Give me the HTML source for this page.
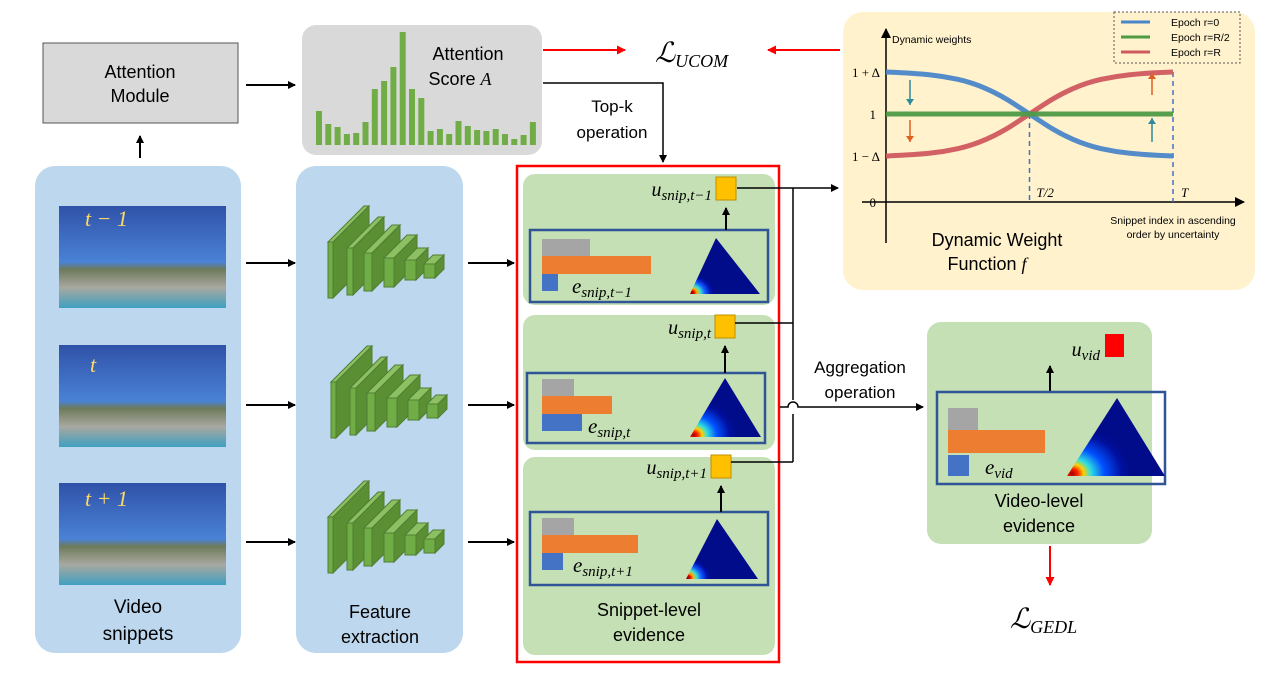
<!DOCTYPE html>
<html><head><meta charset="utf-8">
<style>
html,body{margin:0;padding:0;background:#fff;}
svg{display:block;font-family:"Liberation Sans",sans-serif;}
.m{font-family:"Liberation Serif",serif;font-style:italic;}
</style></head>
<body>
<svg id="root" width="1280" height="675" viewBox="0 0 1280 675" xmlns="http://www.w3.org/2000/svg">
<defs>
<marker id="ab" markerWidth="8" markerHeight="8" refX="7" refY="4" orient="auto" markerUnits="userSpaceOnUse"><path d="M0,0 L8,4 L0,8 z" fill="#000"/></marker>
<marker id="ar" markerWidth="9" markerHeight="9" refX="8" refY="4.5" orient="auto" markerUnits="userSpaceOnUse"><path d="M0,0 L9,4.5 L0,9 z" fill="#f00"/></marker>
<marker id="ak" markerWidth="10" markerHeight="10" refX="9" refY="5" orient="auto" markerUnits="userSpaceOnUse"><path d="M0,0 L10,5 L0,10 z" fill="#000"/></marker>
<radialGradient id="heat" cx="0.02" cy="0.98" r="0.32">
<stop offset="0" stop-color="#800000"/><stop offset="0.12" stop-color="#e00000"/><stop offset="0.25" stop-color="#ffb000"/><stop offset="0.4" stop-color="#40e0d0"/><stop offset="0.6" stop-color="#1060ff"/><stop offset="0.85" stop-color="#0010b0"/><stop offset="1" stop-color="#000c8a"/></radialGradient>
<radialGradient id="heat2" cx="0.05" cy="0.97" r="0.6">
<stop offset="0" stop-color="#a00000"/><stop offset="0.1" stop-color="#ff2000"/><stop offset="0.2" stop-color="#ffd000"/><stop offset="0.32" stop-color="#30e0e0"/><stop offset="0.55" stop-color="#0050ff"/><stop offset="0.85" stop-color="#0010a0"/><stop offset="1" stop-color="#000c8a"/></radialGradient>
<linearGradient id="sky" x1="0" y1="0" x2="0" y2="1"><stop offset="0" stop-color="#2f52a8"/><stop offset="0.55" stop-color="#4a82d6"/><stop offset="0.62" stop-color="#6d7a5a"/><stop offset="0.8" stop-color="#a8a8a0"/><stop offset="1" stop-color="#3fa0c0"/></linearGradient>
</defs>

<rect x="43" y="43" width="195" height="80" fill="#d9d9d9" stroke="#555" stroke-width="1"/>
<text x="140" y="78" text-anchor="middle" font-size="18">Attention</text>
<text x="140" y="102" text-anchor="middle" font-size="18">Module</text>
<line x1="140" y1="158" x2="140" y2="136" stroke="#000" stroke-width="2" marker-end="url(#ab)"/>
<line x1="246" y1="85" x2="295" y2="85" stroke="#000" stroke-width="2" marker-end="url(#ab)"/>

<rect x="302" y="25" width="240" height="130" rx="14" fill="#d9d9d9"/>
<g id="attbars"></g>
<text x="468" y="60" text-anchor="middle" font-size="18">Attention</text>
<text x="460" y="85" text-anchor="middle" font-size="18">Score <tspan class="m">A</tspan></text>

<line x1="543" y1="50" x2="625" y2="50" stroke="#f00" stroke-width="2" marker-end="url(#ar)"/>
<line x1="840" y1="50" x2="768" y2="50" stroke="#f00" stroke-width="2" marker-end="url(#ar)"/>
<text x="655" y="62" font-size="28" class="m">ℒ<tspan font-size="18" dy="5">UCOM</tspan></text>
<polyline points="543,83 663,83 663,162" fill="none" stroke="#000" stroke-width="1.5" marker-end="url(#ab)"/>
<text x="612" y="112" text-anchor="middle" font-size="17">Top-k</text>
<text x="612" y="138" text-anchor="middle" font-size="17">operation</text>

<rect x="35" y="166" width="206" height="487" rx="20" fill="#bdd7ee"/>
<g><rect x="59" y="206" width="167" height="102" fill="url(#sky)"/><text x="85" y="226" class="m" font-size="22" fill="#ffd966">t − 1</text></g>
<g><rect x="59" y="345" width="167" height="102" fill="url(#sky)"/><text x="90" y="372" class="m" font-size="22" fill="#ffd966">t</text></g>
<g><rect x="59" y="483" width="167" height="102" fill="url(#sky)"/><text x="85" y="506" class="m" font-size="22" fill="#ffd966">t + 1</text></g>
<text x="138" y="613" text-anchor="middle" font-size="19">Video</text>
<text x="138" y="640" text-anchor="middle" font-size="19">snippets</text>

<line x1="246" y1="263" x2="295" y2="263" stroke="#000" stroke-width="2" marker-end="url(#ab)"/>
<line x1="246" y1="405" x2="295" y2="405" stroke="#000" stroke-width="2" marker-end="url(#ab)"/>
<line x1="246" y1="542" x2="295" y2="542" stroke="#000" stroke-width="2" marker-end="url(#ab)"/>

<rect x="296" y="166" width="167" height="487" rx="20" fill="#bdd7ee"/>
<g id="cnns"></g>
<text x="380" y="618" text-anchor="middle" font-size="18">Feature</text>
<text x="380" y="643" text-anchor="middle" font-size="18">extraction</text>

<line x1="468" y1="263" x2="514" y2="263" stroke="#000" stroke-width="2" marker-end="url(#ab)"/>
<line x1="468" y1="405" x2="514" y2="405" stroke="#000" stroke-width="2" marker-end="url(#ab)"/>
<line x1="468" y1="542" x2="514" y2="542" stroke="#000" stroke-width="2" marker-end="url(#ab)"/>

<rect x="517" y="166" width="262" height="496" fill="none" stroke="#f00" stroke-width="2.5"/>
<rect x="523" y="174" width="252" height="131" rx="12" fill="#c5e0b4"/>
<rect x="523" y="315" width="252" height="135" rx="12" fill="#c5e0b4"/>
<rect x="523" y="457" width="252" height="198" rx="12" fill="#c5e0b4"/>
<text x="649" y="616" text-anchor="middle" font-size="18">Snippet-level</text>
<text x="649" y="641" text-anchor="middle" font-size="18">evidence</text>

<g id="evid"></g>

<line x1="737" y1="188" x2="838" y2="188" stroke="#000" stroke-width="1.5" marker-end="url(#ab)"/>
<line x1="735" y1="323" x2="793" y2="323" stroke="#000" stroke-width="1.5"/>
<line x1="731" y1="462" x2="793" y2="462" stroke="#000" stroke-width="1.5"/>
<line x1="793" y1="188" x2="793" y2="400" stroke="#000" stroke-width="1.5"/>
<line x1="793" y1="414" x2="793" y2="462" stroke="#000" stroke-width="1.5"/>
<path d="M780,407 L788,407 A5,5 0 0 1 798,407 L923,407" fill="none" stroke="#000" stroke-width="1.5" marker-end="url(#ab)"/>
<text x="860" y="373" text-anchor="middle" font-size="17">Aggregation</text>
<text x="860" y="398" text-anchor="middle" font-size="17">operation</text>

<rect x="927" y="322" width="225" height="222" rx="14" fill="#c5e0b4"/>
<text x="1100" y="356" text-anchor="end" class="m" font-size="20">u<tspan font-size="15" dy="4">vid</tspan></text>
<rect x="1105" y="334" width="19" height="23" fill="#f00"/>
<line x1="1050" y1="392" x2="1050" y2="366" stroke="#000" stroke-width="2" marker-end="url(#ab)"/>
<rect x="937" y="392" width="228" height="92" fill="none" stroke="#2f5597" stroke-width="2.5"/>
<rect x="948" y="408" width="30" height="22" fill="#a5a5a5"/>
<rect x="948" y="430" width="97" height="23" fill="#ed7d31"/>
<rect x="948" y="455" width="21" height="21" fill="#4472c4"/>
<text x="985" y="474" class="m" font-size="21">e<tspan font-size="15" dy="4">vid</tspan></text>
<polygon points="1117,398 1165,476 1067,476" fill="url(#heat2)"/>
<text x="1039" y="507" text-anchor="middle" font-size="18">Video-level</text>
<text x="1039" y="532" text-anchor="middle" font-size="18">evidence</text>
<line x1="1050" y1="546" x2="1050" y2="585" stroke="#f00" stroke-width="2" marker-end="url(#ar)"/>
<text x="1010" y="628" font-size="28" class="m">ℒ<tspan font-size="18" dy="5">GEDL</tspan></text>

<rect x="843" y="12" width="412" height="278" rx="20" fill="#fff2cc"/>
<g id="dw"></g>
</svg>

<script>
var NS='http://www.w3.org/2000/svg';
function mk(tag,attrs,parent){var e=document.createElementNS(NS,tag);for(var k in attrs)e.setAttribute(k,attrs[k]);parent.appendChild(e);return e;}

var attentionScores=[34,21,18,11,12,23,56,64,78,113,56,47,14,16,11,24,19,15,14,16,11,6,10,23];
var attX=function(i){return 316+i*9.3;};
var attY=function(v){return 145-v;};
var ag=document.getElementById('attbars');
attentionScores.forEach(function(v,i){
  var r=mk('rect',{x:attX(i),y:attY(v),width:6,height:145-attY(v),fill:'#70ad47'},ag);
  
  
});

var cg=document.getElementById('cnns');
var slabX=[328,347,364,384,405,424],slabTop=[242,248,253,258,260,264],slabBot=[298,295,291,287,280,278],slabD=[36,31,28,23,12,9],slabW=[5,6,8,10,11,11];
[[0,0],[3,140],[0,275]].forEach(function(o){
  var g=mk('g',{},cg);
  
  
  for(var i=0;i<6;i++){
    var x=slabX[i]+o[0],top=slabTop[i]+o[1],bot=slabBot[i]+o[1],w=slabW[i],d=slabD[i];
    mk('polygon',{points:[x,top,x+w,top,x+w+d,top-d,x+d,top-d].join(' '),fill:'#8cc063',stroke:'#507e32','stroke-width':1},g);
    mk('polygon',{points:[x+w,top,x+w+d,top-d,x+w+d,bot-d,x+w,bot].join(' '),fill:'#5a8f33',stroke:'#507e32','stroke-width':1},g);
    mk('rect',{x:x,y:top,width:w,height:bot-top,fill:'#70ad47',stroke:'#507e32','stroke-width':1},g);
  }
});

var ev=document.getElementById('evid');
var panels=[
 {name:'t-1',box:[530,230,238,72],sq:[716,177],u:'snip,t−1',uy:196,gray:48,orange:109,blue:16,by:239,e:'snip,t−1',ex:572,ey:293,tri:[716,238,690,760,294],grad:'heat'},
 {name:'t',box:[527,373,238,70],sq:[715,315],u:'snip,t',uy:334,gray:32,orange:70,blue:40,by:379,e:'snip,t',ex:588,ey:433,tri:[725,378,690,761,437],grad:'heat2'},
 {name:'t+1',box:[530,512,238,73],sq:[711,455],u:'snip,t+1',uy:474,gray:32,orange:96,blue:21,by:518,e:'snip,t+1',ex:573,ey:572,tri:[717,519,686,758,579],grad:'heat'}
];
panels.forEach(function(p){
  var g=mk('g',{},ev);
  
  
  mk('rect',{x:p.box[0],y:p.box[1],width:p.box[2],height:p.box[3],fill:'none',stroke:'#2f5597','stroke-width':2.5},g);
  mk('rect',{x:p.sq[0],y:p.sq[1],width:20,height:23,fill:'#ffc000',stroke:'#bf9000','stroke-width':1},g);
  mk('line',{x1:p.sq[0]+10,y1:p.box[1],x2:p.sq[0]+10,y2:p.sq[1]+31,stroke:'#000','stroke-width':2,'marker-end':'url(#ab)'},g);
  var t=mk('text',{x:p.sq[0]-4,y:p.uy,'text-anchor':'end','class':'m','font-size':20},g);
  t.innerHTML='u<tspan font-size="15" dy="4">'+p.u+'</tspan>';
  mk('rect',{x:542,y:p.by,width:p.gray,height:17,fill:'#a5a5a5'},g);
  mk('rect',{x:542,y:p.by+17,width:p.orange,height:18,fill:'#ed7d31'},g);
  mk('rect',{x:542,y:p.by+35,width:p.blue,height:17,fill:'#4472c4'},g);
  var e=mk('text',{x:p.ex,y:p.ey,'class':'m','font-size':21},g);
  e.innerHTML='e<tspan font-size="15" dy="4">'+p.e+'</tspan>';
  var tr=p.tri;
  mk('polygon',{points:[tr[0],tr[1],tr[3],tr[4],tr[2],tr[4]].join(' '),fill:'url(#'+p.grad+')'},g);
});

var xFrac=[0,0.1,0.2,0.3,0.4,0.5,0.6,0.7,0.8,0.9,1];
var wBlue=[1,0.97,0.9,0.75,0.45,0,-0.45,-0.75,-0.9,-0.97,-1];
var wGreen=[0,0,0,0,0,0,0,0,0,0,0];
var wRed=[-1,-0.97,-0.9,-0.75,-0.45,0,0.45,0.75,0.9,0.97,1];
var yTickLabels=['1 + Δ','1','1 − Δ','0'];
var yTickVals=[1,0,-1,-2.1];
var legendLabels=['Epoch r=0','Epoch r=R/2','Epoch r=R'];
var dx=function(f){return 886+f*287;};
var dy=function(v){return 114-v*42;};
var dw=document.getElementById('dw');
mk('line',{x1:862,y1:202,x2:1244,y2:202,stroke:'#000','stroke-width':1.5,'marker-end':'url(#ak)'},dw);
mk('line',{x1:886,y1:243,x2:886,y2:29,stroke:'#000','stroke-width':1.5,'marker-end':'url(#ak)'},dw);
mk('text',{x:892,y:43,'font-size':10.5},dw).textContent='Dynamic weights';
yTickLabels.forEach(function(l,i){
  var t=mk('text',{x:l==='1'||l==='0'?876:880,y:dy(yTickVals[i])+5,'text-anchor':'end','font-size':13,'font-family':'Liberation Serif, serif'},dw);
  t.textContent=l;
});
mk('line',{x1:dx(0.5),y1:dy(0),x2:dx(0.5),y2:202,stroke:'#4472c4','stroke-width':1.5,'stroke-dasharray':'5,4'},dw);
mk('line',{x1:dx(1),y1:dy(1),x2:dx(1),y2:202,stroke:'#4472c4','stroke-width':1.5,'stroke-dasharray':'5,4'},dw);
mk('text',{x:dx(0.5)+7,y:197,'class':'m','font-size':13},dw).textContent='T/2';
mk('text',{x:dx(1)+8,y:197,'class':'m','font-size':13},dw).textContent='T';
function smooth(vals){
  var pts=xFrac.map(function(f,i){return [dx(f),dy(vals[i])];});
  var d='M'+pts[0][0]+','+pts[0][1];
  for(var i=1;i<pts.length-1;i++){var mx=(pts[i][0]+pts[i+1][0])/2,my=(pts[i][1]+pts[i+1][1])/2;d+=' Q'+pts[i][0]+','+pts[i][1]+' '+mx+','+my;}
  d+=' L'+pts[pts.length-1][0]+','+pts[pts.length-1][1];return d;
}
var series=[[wRed,'#d0595f','curve-epoch-R'],[wBlue,'#4a86c8','curve-epoch-0'],[wGreen,'#4e9a45','curve-epoch-R2']];
series.forEach(function(s){
  var p=mk('path',{d:smooth(s[0]),fill:'none',stroke:s[1],'stroke-width':5,opacity:0.95},dw);
  
  
});
[[910,80,910,105,'#2e8b9a'],[910,120,910,142,'#e06020'],[1152,95,1152,73,'#e06020'],[1152,142,1152,118,'#2e8b9a']].forEach(function(a){
  mk('line',{x1:a[0],y1:a[1],x2:a[2],y2:a[3],stroke:a[4],'stroke-width':1.5},dw);
  var dir=a[3]>a[1]?1:-1;
  mk('polygon',{points:[a[2]-4,a[3]-6*dir,a[2]+4,a[3]-6*dir,a[2],a[3]].join(' '),fill:a[4]},dw);
});
mk('rect',{x:1114,y:12,width:126,height:51,fill:'none',stroke:'#555','stroke-width':1,'stroke-dasharray':'2,2'},dw);
var legColors=['#4a86c8','#4e9a45','#d0595f'];
legendLabels.forEach(function(l,i){
  var g=mk('g',{},dw);
  
  
  mk('line',{x1:1121,y1:22+i*15,x2:1150,y2:22+i*15,stroke:legColors[i],'stroke-width':3},g);
  mk('text',{x:1171,y:26+i*15,'font-size':10.5},g).textContent=l;
});
mk('text',{x:1173,y:224,'text-anchor':'middle','font-size':10.5},dw).textContent='Snippet index in ascending';
mk('text',{x:1173,y:238,'text-anchor':'middle','font-size':10.5},dw).textContent='order by uncertainty';
mk('text',{x:997,y:246,'text-anchor':'middle','font-size':18},dw).textContent='Dynamic Weight';
var ft=mk('text',{x:987,y:270,'text-anchor':'middle','font-size':18},dw);
ft.innerHTML='Function <tspan class="m" font-family="Liberation Serif, serif">f</tspan>';
</script>
</body></html>
